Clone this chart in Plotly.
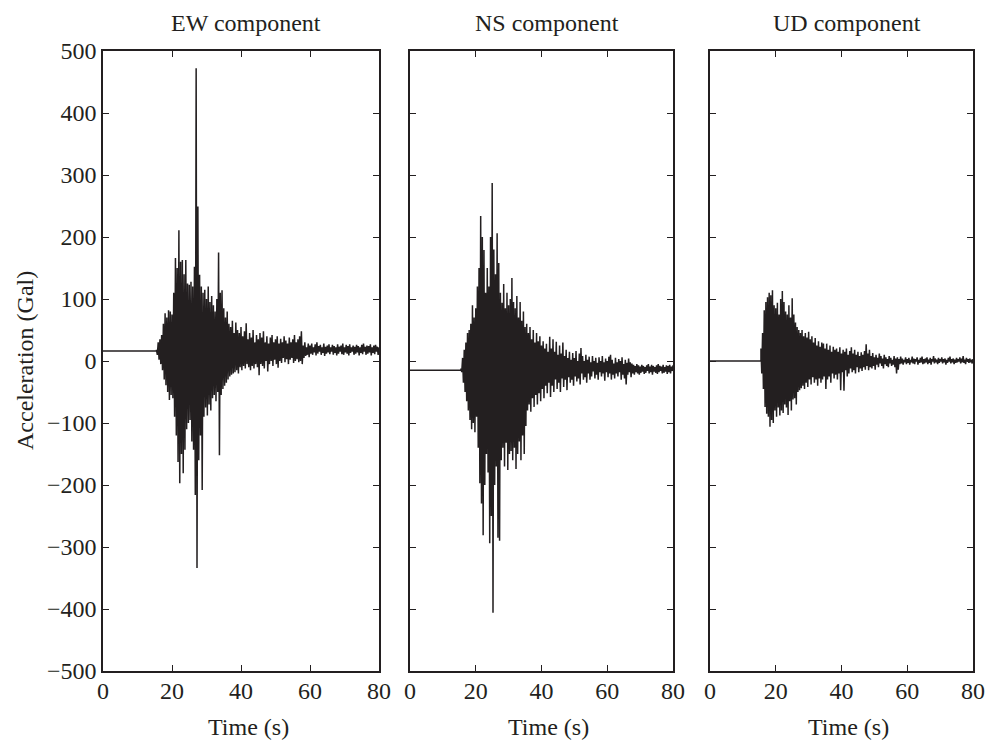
import plotly.graph_objects as go

# ---------------- data ----------------
components = ["EW component", "NS component", "UD component"]
record_start = 15.5      # s, first sample of the strong-motion window
time_step = 0.5          # s, spacing between successive peaks
pre_event_level = [16, -15, 0]   # Gal, flat level before the onset

# EW component: peak / trough values (Gal), one pair every 0.5 s from 15.5 s
ew_peaks = [
    18, 30, 35, 42, 60, 77, 70, 82, 80, 75,
    110, 166, 150, 211, 160, 163, 140, 163, 125, 123,
    128, 120, 152, 472, 249, 139, 120, 110, 115, 100,
    120, 95, 105, 90, 80, 100, 175, 110, 114, 85,
    70, 80, 60, 55, 65, 45, 62, 50, 45, 55,
    40, 48, 61, 35, 45, 38, 50, 30, 42, 35,
    45, 38, 48, 30, 40, 28, 38, 42, 30, 35,
    40, 28, 36, 30, 40, 33, 28, 38, 30, 35,
    42, 30, 35, 40, 48, 25, 30, 22, 28, 25,
    28, 22, 27, 30, 24, 26, 22, 28, 23, 25,
    27, 22, 26, 24, 22, 27, 23, 25, 28, 22,
    26, 24, 27, 22, 25, 23, 26, 24, 22, 26,
    28, 23, 25, 24, 27, 22, 25, 26, 23, 22,
]
ew_troughs = [
    10, 2, -5, -15, -30, -39, -50, -63, -55, -60,
    -90, -120, -163, -197, -150, -181, -143, -110, -100, -95,
    -130, -143, -216, -334, -160, -120, -208, -90, -75, -88,
    -70, -80, -60, -55, -65, -50, -152, -55, -45, -40,
    -35, -30, -25, -22, -20, -18, -15, -20, -10, -15,
    -8, -12, -5, -10, -15, -8, -12, -5, -10, -23,
    -5, -8, -12, 0, -17, -5, 0, -8, 2, -5,
    -11, 0, -3, 5, -2, 3, -5, 2, 5, -3,
    0, 3, -2, 0, -5, 5, 8, 10, 6, 12,
    10, 14, 9, 12, 15, 10, 13, 8, 12, 14,
    11, 15, 10, 13, 9, 12, 15, 11, 10, 14,
    12, 9, 13, 15, 10, 12, 14, 9, 13, 11,
    15, 10, 12, 14, 9, 13, 11, 15, 10, 12,
]

# NS component
ns_peaks = [
    -12, 5, 18, 30, 45, 50, 60, 90, 70, 85,
    120, 150, 234, 200, 179, 110, 150, 120, 200, 287,
    180, 140, 206, 158, 110, 94, 124, 85, 110, 90,
    100, 134, 95, 85, 105, 70, 95, 65, 80, 55,
    60, 45, 55, 35, 50, 30, 45, 32, 40, 25,
    32, 20, 28, 15, 39, 20, 35, 15, 31, 10,
    25, 12, 30, 8, 18, 5, 15, 2, 13, 5,
    16, 0, 12, 21, 8, 0, 10, 2, 7, -2,
    8, 0, 5, -3, 6, 0, 8, -2, 4, 0,
    7, 10, 2, -4, 5, -2, 3, 0, 6, -5,
    2, -3, 4, -2, -4, -6, -8, -5, -7, -9,
    -6, -8, -10, -7, -5, -9, -6, -8, -10, -7,
    -5, -8, -9, -6, -10, -7, -8, -6, -9, -7,
]
ns_troughs = [
    -18, -35, -50, -65, -80, -95, -110, -100, -115, -90,
    -140, -197, -230, -281, -200, -150, -180, -294, -250, -406,
    -200, -170, -285, -290, -160, -140, -170, -132, -176, -150,
    -145, -160, -140, -174, -150, -130, -160, -120, -150, -105,
    -80, -70, -82, -60, -74, -55, -70, -52, -65, -45,
    -60, -40, -52, -35, -58, -40, -50, -30, -45, -35,
    -50, -28, -42, -30, -47, -26, -35, -30, -40, -25,
    -33, -28, -38, -20, -30, -26, -35, -20, -30, -25,
    -17, -28, -22, -30, -18, -25, -20, -32, -18, -26,
    -20, -30, -22, -28, -20, -25, -18, -30, -22, -28,
    -38, -22, -18, -26, -20, -22, -18, -20, -22, -19,
    -17, -21, -19, -16, -20, -18, -22, -17, -19, -21,
    -18, -16, -20, -19, -17, -21, -18, -20, -16, -19,
]

# UD component
ud_peaks = [
    20, 45, 82, 95, 103, 110, 106, 114, 90, 85,
    94, 75, 100, 113, 95, 80, 75, 90, 70, 101,
    75, 62, 55, 50, 45, 50, 40, 45, 38, 47,
    35, 40, 30, 37, 25, 32, 23, 30, 28, 20,
    28, 18, 25, 15, 23, 18, 20, 15, 22, 12,
    18, 15, 20, 10, 16, 22, 12, 18, 10, 15,
    8, 14, 10, 16, 27, 12, 18, 8, 13, 6,
    10, 5, 12, 8, 4, 10, 6, 3, 8, 5,
    2, 8, 4, 6, 3, 7, 4, 2, 6, 3,
    5, 2, 7, 4, 3, 6, 2, 5, 7, 3,
    4, 6, 2, 5, 3, 8, 4, 2, 5, 3,
    6, 3, 4, 2, 5, 7, 3, 4, 2, 5,
    3, 6, 4, 8, 2, 5, 3, 4, 2, 3,
]
ud_troughs = [
    -20, -45, -74, -85, -90, -106, -95, -100, -80, -90,
    -75, -88, -80, -84, -70, -75, -87, -65, -80, -62,
    -60, -70, -50, -47, -44, -40, -45, -35, -42, -30,
    -38, -26, -35, -30, -40, -28, -35, -30, -25, -45,
    -30, -25, -35, -20, -28, -22, -30, -20, -47, -18,
    -48, -15, -25, -20, -12, -18, -15, -20, -10, -18,
    -12, -16, -10, -14, -8, -15, -10, -12, -8, -14,
    -6, -10, -4, -8, -12, -5, -8, -10, -4, -8,
    -6, -10, -20, -14, -5, -4, -6, -2, -5, -3,
    -6, -2, -4, -5, -1, -6, -3, -2, -5, -4,
    -2, -5, -3, -6, -1, -4, -2, -5, -3, -1,
    -4, -2, -6, -3, -1, -4, -2, -5, -3, -2,
    -1, -4, -2, -3, -5, -1, -3, -2, -4, -1,
]

x_tickvals = [0, 20, 40, 60, 80]
x_ticktext = ["0", "20", "40", "60", "80"]
y_tickvals = [-500, -400, -300, -200, -100, 0, 100, 200, 300, 400, 500]
y_ticktext = ["\u2212500", "\u2212400", "\u2212300", "\u2212200", "\u2212100",
              "0", "100", "200", "300", "400", "500"]
x_label = "Time (s)"
y_label = "Acceleration (Gal)"


def build_series(peaks, troughs, base):
    t = [0.0, record_start]
    a = [base, base]
    for i, (p, q) in enumerate(zip(peaks, troughs)):
        ti = record_start + i * time_step
        t.extend([ti, ti + time_step / 2])
        a.extend([p, q])
    return t, a


series = [
    build_series(ew_peaks, ew_troughs, pre_event_level[0]),
    build_series(ns_peaks, ns_troughs, pre_event_level[1]),
    build_series(ud_peaks, ud_troughs, pre_event_level[2]),
]

# ---------------- layout ----------------
W, H = 987, 743
INK = "#231f20"
FONT = "Liberation Serif"
FS = 24

panels_px = [(103, 379), (410, 673), (710, 973)]
top_px, bottom_px = 51, 671

fig = go.Figure()
for k, (t, a) in enumerate(series):
    sfx = "" if k == 0 else str(k + 1)
    fig.add_trace(go.Scatter(
        x=t, y=a, mode="lines",
        line=dict(color=INK, width=1.5, simplify=False),
        xaxis="x" + sfx, yaxis="y" + sfx, showlegend=False,
        hoverinfo="skip",
    ))

layout = dict(
    template="none",
    width=W, height=H,
    margin=dict(l=0, r=0, t=0, b=0, autoexpand=False),
    paper_bgcolor="white", plot_bgcolor="white",
    font=dict(family=FONT, size=FS, color=INK),
    showlegend=False,
)

y_dom = [1 - bottom_px / H, 1 - top_px / H]
for k, (l, r) in enumerate(panels_px):
    sfx = "" if k == 0 else str(k + 1)
    layout["xaxis" + sfx] = dict(
        domain=[l / W, r / W], anchor="y" + sfx, range=[0, 80],
        tickvals=x_tickvals, ticktext=x_ticktext, automargin=False,
        ticks="inside", ticklen=6, tickwidth=1, tickcolor=INK,
        ticklabelstandoff=-3,
        showline=True, linewidth=1.5, linecolor=INK, mirror="ticks",
        showgrid=False, zeroline=False,
        tickfont=dict(family=FONT, size=FS, color=INK),
    )
    layout["yaxis" + sfx] = dict(
        domain=y_dom, anchor="x" + sfx, range=[-500, 500],
        tickvals=y_tickvals, ticktext=y_ticktext, automargin=False,
        showticklabels=(k == 0),
        ticks="inside", ticklen=6, tickwidth=1, tickcolor=INK,
        showline=True, linewidth=1.5, linecolor=INK, mirror="ticks",
        showgrid=False, zeroline=False,
        tickfont=dict(family=FONT, size=FS, color=INK),
    )

annotations = []
for k, (l, r) in enumerate(panels_px):
    cx = (l + r) / 2 + 5
    annotations.append(dict(
        text=components[k], x=cx / W, y=1 - 23 / H, xref="paper", yref="paper",
        xanchor="center", yanchor="middle", showarrow=False,
        font=dict(family=FONT, size=FS, color=INK),
    ))
    annotations.append(dict(
        text=x_label, x=(cx + 2) / W, y=1 - 727 / H, xref="paper", yref="paper",
        xanchor="center", yanchor="middle", showarrow=False,
        font=dict(family=FONT, size=FS, color=INK),
    ))
annotations.append(dict(
    text=y_label, x=25 / W, y=1 - 361 / H, xref="paper", yref="paper",
    xanchor="center", yanchor="middle", showarrow=False, textangle=-90,
    font=dict(family=FONT, size=FS, color=INK),
))
layout["annotations"] = annotations

fig.update_layout(**layout)
fig.write_html("out.html")
